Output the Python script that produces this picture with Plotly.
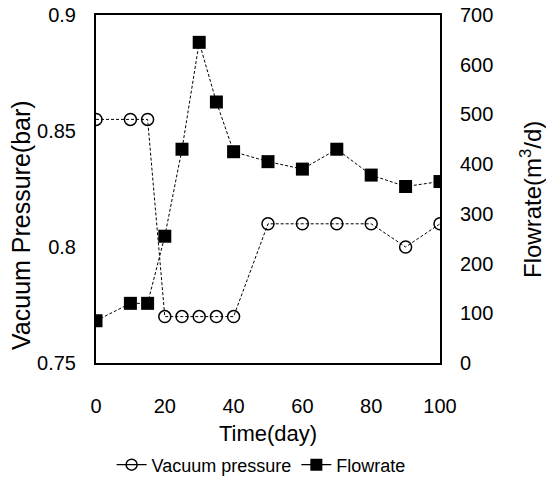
import plotly.graph_objects as go

days_vac = [0, 10, 15, 20, 25, 30, 35, 40, 50, 60, 70, 80, 90, 100]
vacuum = [0.855, 0.855, 0.855, 0.77, 0.77, 0.77, 0.77, 0.77, 0.81, 0.81, 0.81, 0.81, 0.80, 0.81]
days_flow = [0, 10, 15, 20, 25, 30, 35, 40, 50, 60, 70, 80, 90, 100]
flowrate = [85, 120, 120, 255, 430, 645, 525, 425, 405, 390, 430, 378, 355, 365]

x_ticks = [0, 20, 40, 60, 80, 100]
y1_ticks = [0.75, 0.8, 0.85, 0.9]
y1_text = ["0.75", "0.8", "0.85", "0.9"]
y2_ticks = [0, 100, 200, 300, 400, 500, 600, 700]

font = "Liberation Sans, Arial, sans-serif"
dash = "3px,2px"

fig = go.Figure()
fig.add_trace(go.Scatter(
    x=days_vac, y=vacuum, name="Vacuum pressure", mode="lines+markers",
    line=dict(color="black", width=1, dash=dash), showlegend=False,
    marker=dict(symbol="circle-open", size=12, color="black", line=dict(width=1.5)),
    yaxis="y"))
fig.add_trace(go.Scatter(
    x=days_flow, y=flowrate, name="Flowrate", mode="lines+markers",
    line=dict(color="black", width=1, dash=dash), showlegend=False,
    marker=dict(symbol="square", size=13, color="black"),
    yaxis="y2"))
# legend entries (solid lines as in the reference legend)
fig.add_trace(go.Scatter(
    x=[None], y=[None], name="Vacuum pressure", mode="lines+markers",
    line=dict(color="black", width=1.2, dash="solid"),
    marker=dict(symbol="circle-open", size=11, color="black", line=dict(width=1.5))))
fig.add_trace(go.Scatter(
    x=[None], y=[None], name="Flowrate", mode="lines+markers",
    line=dict(color="black", width=1.2, dash="solid"),
    marker=dict(symbol="square", size=12, color="black")))

fig.update_layout(
    width=546, height=479,
    margin=dict(l=96, r=106, t=15, b=116, autoexpand=False),
    paper_bgcolor="white", plot_bgcolor="white",
    font=dict(family=font, color="black", size=20),
    showlegend=True,
    legend=dict(orientation="h", x=0.48, xanchor="center",
                yref="container", y=1 - 465 / 479, yanchor="middle",
                font=dict(size=18), itemwidth=30, tracegroupgap=0),
    xaxis=dict(range=[0, 100], tickvals=x_ticks, showgrid=False, automargin=False,
               zeroline=False, showline=True, linecolor="black", linewidth=2, mirror=True,
               ticks="", ticklabelstandoff=24,
               title=dict(text="Time(day)", standoff=20, font=dict(size=22))),
    yaxis=dict(range=[0.75, 0.9], tickvals=y1_ticks, automargin=False,
               ticktext=y1_text, showgrid=False, zeroline=False,
               showline=True, linecolor="black", linewidth=2, ticks="", ticklabelstandoff=14),
    yaxis2=dict(range=[0, 700], tickvals=y2_ticks, automargin=False,
                overlaying="y", side="right", showgrid=False, zeroline=False,
                showline=True, linecolor="black", linewidth=2, ticks="", ticklabelstandoff=14),
    annotations=[
        dict(text="Vacuum Pressure(bar)", textangle=-90, xref="paper", yref="paper",
             x=(21 - 96) / 344, y=(363 - 225) / 348, xanchor="center", yanchor="middle",
             showarrow=False, font=dict(size=25)),
        dict(text="Flowrate(m<sup>3</sup>/d)", textangle=-90, xref="paper", yref="paper",
             x=(531 - 96) / 344, y=(363 - 200) / 348, xanchor="center", yanchor="middle",
             showarrow=False, font=dict(size=24)),
    ],
)

fig.write_html("out.html")
